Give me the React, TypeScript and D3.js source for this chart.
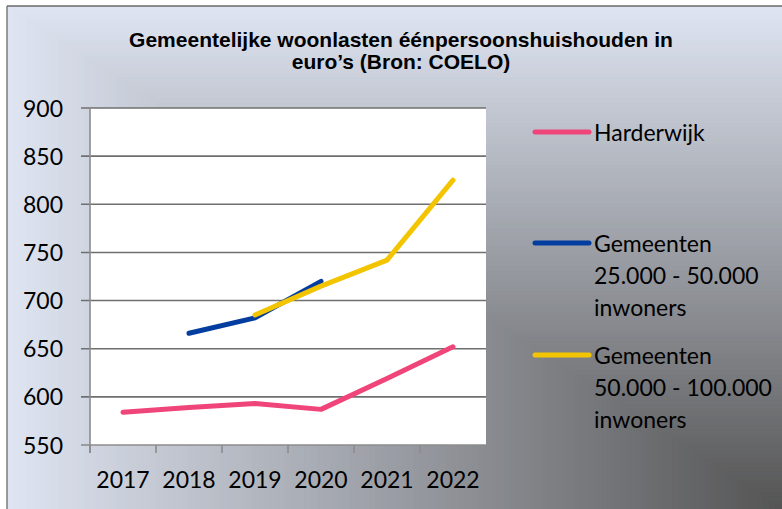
import React from "react";
import * as d3 from "d3";

const years = ["2017", "2018", "2019", "2020", "2021", "2022"];
const harderwijk: (number | null)[] = [584, 589, 593, 587, 619, 652];
const gem25to50: (number | null)[] = [null, 666, 682, 720, null, null];
const gem50to100: (number | null)[] = [null, null, 685, 715, 742, 825];
const yTicks = [550, 600, 650, 700, 750, 800, 850, 900];

const seriesNames = [
  ["Harderwijk"],
  ["Gemeenten", "25.000 - 50.000", "inwoners"],
  ["Gemeenten", "50.000 - 100.000", "inwoners"],
];
const seriesColors = ["#f0457b", "#023d9f", "#f2c500"];
const seriesData = [harderwijk, gem25to50, gem50to100];

const W = 782;
const H = 509;
const bgX0 = 7;
const bgY0 = 6;
const plotL = 90;
const plotR = 486;
const plotT = 108;
const plotB = 445;
const font = "Lato, 'Open Sans', sans-serif";
const titleFont = "'Liberation Sans', Arial, sans-serif";

export default function App() {
  const x = d3.scaleBand<string>().domain(years).range([plotL, plotR]);
  const y = d3.scaleLinear().domain([550, 900]).range([plotB, plotT]);
  const line = d3
    .line<number | null>()
    .defined((d) => d != null)
    .x((_, i) => (x(years[i]) as number) + x.bandwidth() / 2)
    .y((d) => y(d as number));

  const interp = d3.interpolateRgb("#dee4f1", "#545454");
  const steps = 120;
  const bw = W - bgX0;
  const bh = H - bgY0;
  const bgRects = d3.range(steps).map((k) => {
    const t = k / steps;
    return {
      x: bgX0 + t * bw,
      y: bgY0 + t * bh,
      w: bw * (1 - t) + 2,
      h: bh * (1 - t) + 2,
      c: interp(t),
    };
  });

  const legendY = [132, 243, 355];

  return (
    <svg width={W} height={H} style={{ position: "absolute", left: 0, top: 0, display: "block" }}>
      <rect x={0} y={0} width={W} height={H} fill="#ffffff" />
      {bgRects.map((r, i) => (
        <rect key={i} x={r.x} y={r.y} width={r.w} height={r.h} fill={r.c} />
      ))}
      <line x1={bgX0} y1={bgY0} x2={W} y2={bgY0} stroke="#6a6a6a" strokeWidth={1.3} />
      <line x1={bgX0} y1={bgY0} x2={bgX0} y2={H} stroke="#6a6a6a" strokeWidth={1.3} />

      <text x={401} y={46.5} textAnchor="middle" fontFamily={titleFont} fontWeight="bold" fontSize={21} fill="#000">
        Gemeentelijke woonlasten éénpersoonshuishouden in
      </text>
      <text x={401} y={69} textAnchor="middle" fontFamily={titleFont} fontWeight="bold" fontSize={21} fill="#000">
        euro’s (Bron: COELO)
      </text>

      <rect x={plotL} y={plotT} width={plotR - plotL} height={plotB - plotT} fill="#ffffff" />
      {yTicks.map((t) => (
        <g key={t}>
          <line
            x1={plotL - 9}
            x2={t === 550 ? plotL : plotR}
            y1={y(t)}
            y2={y(t)}
            stroke={t === 550 ? "#8c8c8c" : "#6f6f6f"}
            strokeWidth={1.6}
          />
          <text x={63} y={y(t) + 8.5} textAnchor="end" fontFamily={font} fontSize={23} fill="#000">
            {t}
          </text>
        </g>
      ))}
      <line x1={plotL} x2={plotR} y1={plotB} y2={plotB} stroke="#8c8c8c" strokeWidth={1.6} />
      <line x1={plotL} x2={plotL} y1={plotT} y2={plotB + 8} stroke="#8c8c8c" strokeWidth={1.6} />
      {years.map((yr) => (
        <g key={yr}>
          <line x1={x(yr) as number} x2={x(yr) as number} y1={plotB} y2={plotB + 8} stroke="#8c8c8c" strokeWidth={1.6} />
          <text
            x={(x(yr) as number) + x.bandwidth() / 2}
            y={488}
            textAnchor="middle"
            fontFamily={font}
            fontSize={23}
            fill="#000"
          >
            {yr}
          </text>
        </g>
      ))}
      <line x1={plotR} x2={plotR} y1={plotB} y2={plotB + 8} stroke="#8c8c8c" strokeWidth={1.6} />

      {seriesData.map((s, i) => (
        <path
          key={i}
          d={line(s) || ""}
          fill="none"
          stroke={seriesColors[i]}
          strokeWidth={5}
          strokeLinecap="round"
          strokeLinejoin="round"
        />
      ))}

      {seriesNames.map((lines, i) => (
        <g key={i}>
          <line
            x1={535}
            x2={589}
            y1={legendY[i]}
            y2={legendY[i]}
            stroke={seriesColors[i]}
            strokeWidth={5}
            strokeLinecap="round"
          />
          {lines.map((ln, j) => (
            <text key={j} x={594} y={legendY[i] + 8.5 + j * 32} fontFamily={font} fontSize={23} fill="#000">
              {ln}
            </text>
          ))}
        </g>
      ))}
    </svg>
  );
}
